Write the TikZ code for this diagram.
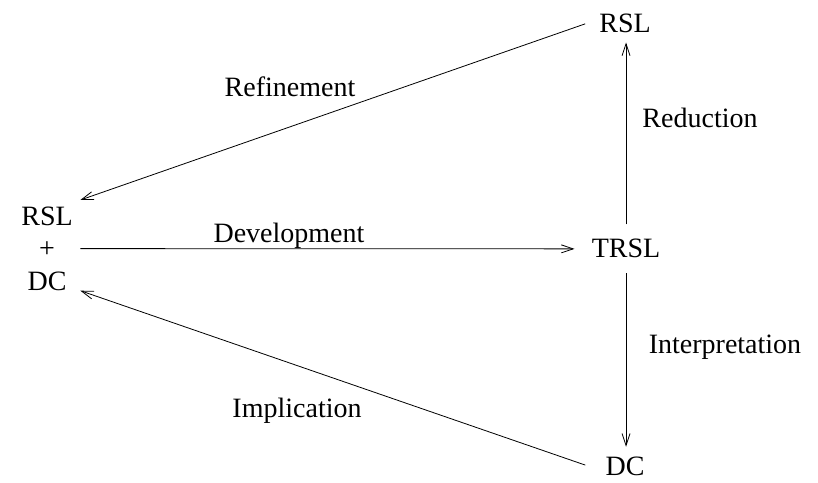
\documentclass[tikz,border=0pt]{standalone}
\usepackage{fontspec}
\setmainfont{Liberation Serif}
\usetikzlibrary{arrows.meta}
\begin{document}
\begin{tikzpicture}[x=1pt,y=1pt,
  every node/.style={font=\fontsize{28}{32.5}\selectfont, inner sep=0pt},
  term/.style={anchor=base},
  lbl/.style={anchor=base},
  arr/.style={line width=0.8pt, -{Straight Barb[length=12pt,width=8pt,line width=0.8pt]}}]
\useasboundingbox (0,0) rectangle (818,482);

% languages
\node[term, inner xsep=14pt, inner ysep=9pt] (rslT) at (625,449) {RSL};
\node[term, inner xsep=17pt, inner ysep=15pt] (trsl) at (626,224) {TRSL};
\node[term, inner xsep=20pt, inner ysep=0pt] (dcB) at (625,6.5) {DC};
\node[align=center, anchor=north, inner xsep=7.5pt, inner ysep=6.5pt] (lft) at (47,282) {RSL\\+\\DC};

% relations
\draw[arr] (rslT.west) -- (lft.north east);
\draw[arr] (lft.east) -- (trsl.west);
\draw[arr] (trsl.north) -- (trsl.north |- rslT.south);
\draw[arr] (trsl.south) -- ([yshift=10pt]trsl.south |- dcB.north);
\draw[arr] ([yshift=1.25pt]dcB.west) -- ([yshift=6.5pt]lft.south east);

% labels
\node[lbl] (ref) at (290,385) {Refinement};
\node[lbl] (dev) at (289,239) {Development};
\node[lbl] (red) at (700,354) {Reduction};
\node[lbl] (int) at (725,129) {Interpretation};
\node[lbl] (imp) at (297,65) {Implication};
\end{tikzpicture}
\end{document}
